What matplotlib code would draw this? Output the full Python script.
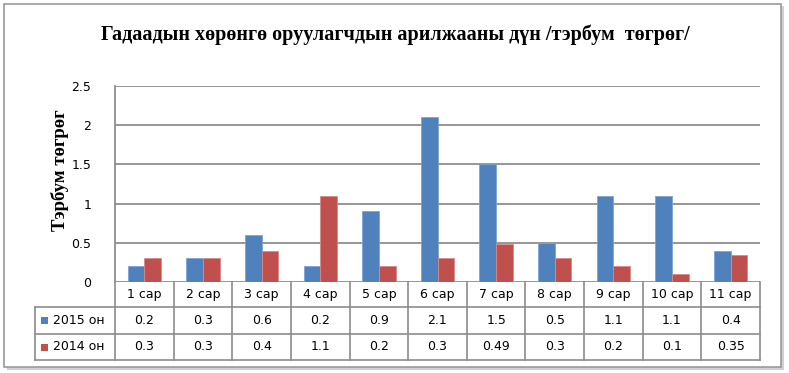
import matplotlib.pyplot as plt
from matplotlib.patches import Rectangle
import matplotlib.transforms as mtransforms

# data
months = ["1 сар", "2 сар", "3 сар", "4 сар", "5 сар", "6 сар", "7 сар", "8 сар", "9 сар", "10 сар", "11 сар"]
v2015 = [0.2, 0.3, 0.6, 0.2, 0.9, 2.1, 1.5, 0.5, 1.1, 1.1, 0.4]
v2014 = [0.3, 0.3, 0.4, 1.1, 0.2, 0.3, 0.49, 0.3, 0.2, 0.1, 0.35]
v2015_txt = ["0.2", "0.3", "0.6", "0.2", "0.9", "2.1", "1.5", "0.5", "1.1", "1.1", "0.4"]
v2014_txt = ["0.3", "0.3", "0.4", "1.1", "0.2", "0.3", "0.49", "0.3", "0.2", "0.1", "0.35"]
series_names = ["2015 он", "2014 он"]
yticks = [0, 0.5, 1, 1.5, 2, 2.5]
ytick_labels = ["0", "0.5", "1", "1.5", "2", "2.5"]

BLUE = "#4F81BD"
RED = "#C0504D"
GRID = "#8E8E8E"
W, H = 789, 373

fig = plt.figure(figsize=(W / 100, H / 100), dpi=100)

def fy(py):
    return 1 - py / H

# outer frame with a small shadow
fig.patches.append(Rectangle((7 / W, fy(370)), 777 / W, 364 / H, transform=fig.transFigure,
                             facecolor="#D0D0D0", edgecolor="none", zorder=-3))
fig.patches.append(Rectangle((4 / W, fy(367)), 777 / W, 363 / H, transform=fig.transFigure,
                             facecolor="white", edgecolor="#9A9A9A", linewidth=1.2, zorder=-2))

left, right, top, bottom = 115, 760, 86, 282
ax = fig.add_axes([left / W, fy(bottom), (right - left) / W, (bottom - top) / H])
ax.set_facecolor("none")

x = list(range(len(months)))
bw = 0.285
ax.bar([i - bw / 2 for i in x], v2015, width=bw, color=BLUE, edgecolor="#7FA3D3", linewidth=0.6, zorder=3)
ax.bar([i + bw / 2 for i in x], v2014, width=bw, color=RED, edgecolor="#D98A88", linewidth=0.6, zorder=3)

ax.set_xlim(-0.5, len(months) - 0.5)
ax.set_ylim(0, 2.5)
ax.set_yticks(yticks)
ax.set_yticklabels(ytick_labels, fontsize=9, family="DejaVu Sans")
ax.set_xticks([])
ax.tick_params(axis="y", length=0, pad=17)
ax.yaxis.grid(True, color=GRID, linewidth=1.3)
ax.set_axisbelow(True)
for s in ["top", "right", "bottom"]:
    ax.spines[s].set_visible(False)
ax.spines["left"].set_color(GRID)
ax.spines["left"].set_linewidth(1.3)

# title and y label
fig.text(395 / W, fy(35), "Гадаадын хөрөнгө оруулагчдын арилжааны дүн /тэрбум  төгрөг/",
         ha="center", va="center", fontsize=14.5, fontweight="bold", family="Liberation Serif")
fig.text(60 / W, fy(170), "Тэрбум төгрөг", ha="center", va="center", rotation=90,
         fontsize=13.5, fontweight="bold", family="Liberation Serif")

# data table under the plot
trans = mtransforms.blended_transform_factory(ax.transData, fig.transFigure)
row_y = [282, 307, 334, 360]
lc = "#8C8C8C"
for i in range(len(months) + 1):
    ax.plot([i - 0.5, i - 0.5], [fy(row_y[0]), fy(row_y[-1])], transform=trans,
            color=lc, linewidth=1.2, clip_on=False)
for yy in row_y[1:]:
    fig.add_artist(plt.Line2D([35 / W, right / W], [fy(yy), fy(yy)], color=lc, linewidth=1.2))
fig.add_artist(plt.Line2D([35 / W, 35 / W], [fy(row_y[1]), fy(row_y[-1])], color=lc, linewidth=1.2))

for i, m in enumerate(months):
    ax.text(i, fy((row_y[0] + row_y[1]) / 2), m, transform=trans, ha="center", va="center", fontsize=9)
    ax.text(i, fy((row_y[1] + row_y[2]) / 2), v2015_txt[i], transform=trans, ha="center", va="center", fontsize=9)
    ax.text(i, fy((row_y[2] + row_y[3]) / 2), v2014_txt[i], transform=trans, ha="center", va="center", fontsize=9)

for k, (name, col) in enumerate(zip(series_names, [BLUE, RED])):
    yc = (row_y[k + 1] + row_y[k + 2]) / 2
    fig.patches.append(Rectangle((41 / W, fy(yc + 3.5)), 7 / W, 7 / H, transform=fig.transFigure,
                                 facecolor=col, edgecolor="none", zorder=2))
    fig.text(53 / W, fy(yc), name, ha="left", va="center", fontsize=9)

fig.savefig("out.png", dpi=100)
